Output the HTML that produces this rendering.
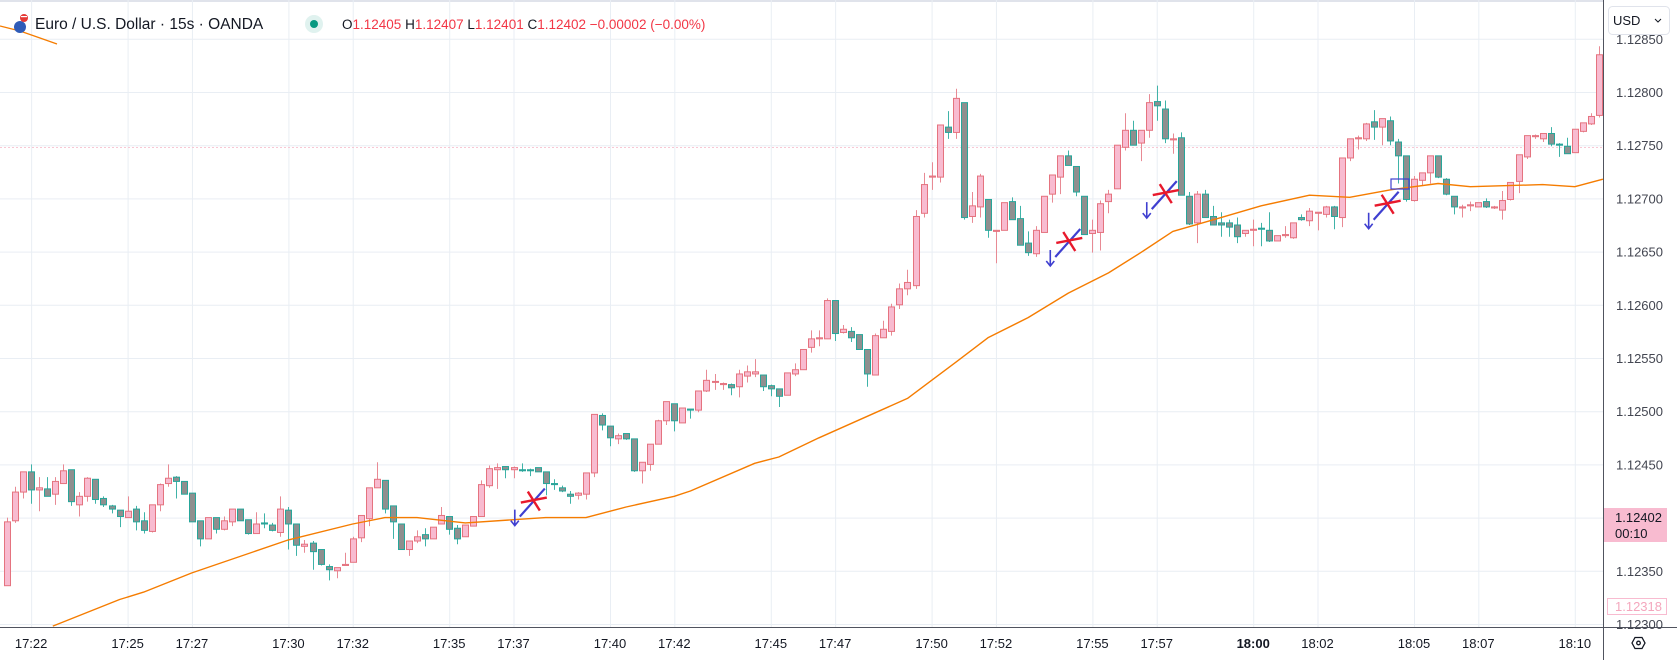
<!DOCTYPE html>
<html><head><meta charset="utf-8">
<style>
html,body{margin:0;padding:0;background:#fff;}
body{width:1677px;height:666px;overflow:hidden;position:relative;font-family:"Liberation Sans",sans-serif;}
svg{position:absolute;left:0;top:0;}
</style></head>
<body>
<svg id="chart" width="1677" height="666" viewBox="0 0 1677 666">
  <rect x="0" y="0" width="1677" height="666" fill="#ffffff"/>
  <rect x="0" y="0" width="1677" height="2" fill="#e0e3eb"/>
  <g id="grid"></g>
  <line x1="0" y1="147.5" x2="1603" y2="147.5" stroke="#f8c8d4" stroke-width="1" stroke-dasharray="2,2"/>
  <g id="candles"></g>
  <g id="ma"></g>
  <path d="M0,26 L20,31 L40,38 L57,44" fill="none" stroke="#f57c00" stroke-width="1.3"/>
  <g id="signals"></g>
  <rect x="1391" y="179" width="18" height="10" fill="none" stroke="#3f3fd0" stroke-width="1.2"/>
  <!-- axes -->
  <rect x="1604" y="0" width="73" height="666" fill="#ffffff"/>
  <rect x="0" y="628" width="1604" height="38" fill="#ffffff"/>
  <line x1="1603.5" y1="0" x2="1603.5" y2="660" stroke="#50535e" stroke-width="1"/>
  <line x1="0" y1="627.5" x2="1677" y2="627.5" stroke="#50535e" stroke-width="1"/>
  <g id="yaxis"></g>
  <g id="xaxis"></g>
  <rect x="1604" y="508" width="63" height="34" fill="#f8bbd0"/>
  <text x="1615" y="522" font-size="13" fill="#131722">1.12402</text>
  <text x="1615" y="538" font-size="13" fill="#131722">00:10</text>
  <rect x="1607.5" y="598.5" width="59" height="16" fill="#fff" stroke="#f8bbd0" stroke-width="1"/>
  <text x="1615" y="611" font-size="13" fill="#f4a7bd">1.12318</text>
  <rect x="1608.5" y="6.5" width="61" height="28" rx="4" fill="#fff" stroke="#e0e3eb"/>
  <text x="1613" y="25" font-size="13" fill="#131722">USD</text>
  <path d="M1655,19 l3,3 l3,-3" fill="none" stroke="#131722" stroke-width="1"/>
  <g>
    <path d="M1632,643 l3,-5.5 h7 l3,5.5 l-3,5.5 h-7 z" fill="none" stroke="#131722" stroke-width="1.3"/>
    <circle cx="1638.5" cy="643" r="1.8" fill="none" stroke="#131722" stroke-width="1.3"/>
  </g>
  <!-- header -->
  <g>
    <circle cx="20" cy="27" r="6" fill="#2f5bb7"/>
    <circle cx="24" cy="18" r="4" fill="#e53935"/>
    <rect x="21" y="16" width="6" height="1.2" fill="#fff"/>
  </g>
  <text x="35" y="29" font-size="15.5" fill="#131722">Euro / U.S. Dollar · 15s · OANDA</text>
  <circle cx="314" cy="24" r="9" fill="#e0f2ef"/>
  <circle cx="314" cy="24" r="4" fill="#089981"/>
  <text x="342" y="29" font-size="13.5"><tspan fill="#131722">O</tspan><tspan fill="#f23645">1.12405</tspan><tspan fill="#131722"> H</tspan><tspan fill="#f23645">1.12407</tspan><tspan fill="#131722"> L</tspan><tspan fill="#f23645">1.12401</tspan><tspan fill="#131722"> C</tspan><tspan fill="#f23645">1.12402 −0.00002 (−0.00%)</tspan></text>
</svg>
<script>
// prices in points (price × 100000)
const openP=[112336,112397,112424,112443,112426,112427,112422,112432,112445,112412,112420,112436,112418,112411,112407,112400,112408,112397,112387,112412,112432,112438,112434,112423,112397,112380,112400,112389,112396,112408,112398,112385,112395,112393,112386,112407,112394,112373,112376,112370,112354,112350,112355,112358,112381,112399,112428,112435,112411,112394,112370,112378,112384,112380,112394,112401,112390,112382,112392,112401,112430,112445,112448,112445,112445,112445,112447,112443,112432,112428,112422,112421,112422,112442,112496,112486,112474,112479,112474,112444,112450,112469,112491,112507,112489,112502,112501,112519,112528,112525,112525,112523,112533,112535,112534,112524,112521,112515,112535,112539,112560,112568,112568,112604,112574,112575,112572,112558,112534,112569,112575,112600,112615,112618,112686,112720,112720,112767,112762,112790,112683,112692,112699,112669,112670,112697,112681,112658,112648,112668,112704,112720,112740,112730,112702,112667,112668,112697,112709,112748,112764,112752,112764,112791,112784,112755,112757,112702,112677,112704,112683,112677,112677,112675,112667,112670,112672,112670,112660,112665,112663,112682,112679,112686,112685,112692,112682,112738,112756,112756,112772,112767,112773,112753,112740,112698,112717,112724,112740,112718,112702,112691,112693,112692,112697,112691,112689,112699,112716,112739,112758,112756,112761,112751,112749,112743,112763,112770,112778];
const highP=[112400,112429,112443,112450,112438,112438,112438,112450,112445,112424,112438,112436,112420,112412,112407,112420,112411,112405,112412,112432,112450,112439,112434,112423,112397,112400,112400,112401,112408,112408,112398,112405,112404,112395,112420,112410,112394,112379,112378,112370,112356,112353,112367,112382,112402,112428,112452,112435,112411,112394,112378,112388,112390,112391,112410,112401,112393,112393,112401,112435,112449,112451,112448,112448,112451,112446,112447,112443,112436,112430,112425,112424,112442,112497,112498,112486,112479,112479,112474,112452,112469,112492,112509,112507,112503,112502,112519,112539,112535,112527,112526,112539,112543,112549,112534,112525,112521,112536,112545,112558,112576,112576,112606,112604,112581,112579,112572,112558,112573,112585,112601,112620,112633,112689,112724,112734,112769,112782,112803,112790,112706,112723,112699,112670,112696,112701,112693,112669,112674,112702,112722,112740,112745,112730,112702,112680,112698,112708,112750,112780,112773,112764,112798,112806,112792,112761,112762,112706,112707,112708,112693,112687,112680,112682,112670,112680,112677,112687,112665,112674,112677,112685,112691,112686,112693,112693,112738,112756,112759,112771,112783,112775,112777,112756,112740,112721,112724,112740,112740,112719,112702,112694,112697,112696,112700,112693,112707,112715,112741,112759,112760,112761,112767,112752,112757,112765,112771,112780,112843];
const lowP=[112336,112395,112418,112413,112406,112420,112412,112432,112411,112401,112415,112413,112410,112404,112391,112400,112388,112385,112386,112406,112429,112418,112422,112396,112373,112380,112385,112388,112392,112397,112384,112385,112390,112387,112382,112370,112364,112367,112351,112355,112341,112343,112355,112358,112377,112392,112428,112404,112380,112370,112364,112376,112373,112380,112394,112384,112375,112382,112392,112401,112428,112427,112437,112437,112443,112439,112443,112421,112426,112424,112413,112417,112417,112438,112482,112467,112469,112473,112443,112432,112444,112469,112487,112481,112489,112493,112499,112518,112520,112520,112515,112513,112527,112532,112519,112514,112504,112515,112533,112539,112555,112561,112568,112566,112573,112565,112558,112523,112534,112569,112571,112596,112609,112615,112682,112708,112715,112756,112756,112680,112677,112682,112663,112639,112670,112680,112656,112646,112645,112668,112696,112704,112731,112702,112666,112649,112651,112686,112709,112745,112750,112735,112757,112773,112752,112742,112703,112675,112658,112682,112675,112664,112664,112658,112664,112655,112655,112659,112660,112663,112662,112679,112674,112670,112682,112671,112673,112735,112746,112754,112755,112750,112750,112714,112697,112697,112712,112714,112719,112703,112685,112682,112688,112692,112691,112690,112680,112698,112705,112737,112756,112753,112749,112739,112742,112743,112762,112769,112776];
const closeP=[112396,112424,112443,112426,112428,112420,112434,112444,112415,112420,112437,112417,112412,112408,112401,112406,112396,112388,112412,112431,112437,112434,112422,112396,112380,112400,112389,112397,112408,112397,112385,112394,112394,112388,112408,112394,112374,112375,112368,112356,112351,112353,112356,112380,112402,112428,112436,112408,112396,112370,112378,112382,112380,112391,112402,112389,112380,112393,112401,112431,112446,112447,112445,112447,112444,112444,112443,112432,112431,112425,112420,112423,112442,112497,112487,112475,112477,112474,112444,112452,112469,112491,112509,112491,112503,112501,112519,112529,112528,112526,112522,112535,112537,112537,112523,112521,112514,112536,112539,112558,112568,112569,112604,112573,112577,112569,112558,112535,112571,112577,112598,112615,112621,112683,112713,112721,112769,112762,112794,112682,112693,112721,112670,112670,112696,112680,112656,112649,112670,112702,112722,112740,112731,112706,112666,112670,112695,112704,112750,112764,112750,112764,112790,112787,112756,112756,112703,112676,112704,112682,112675,112675,112673,112664,112670,112671,112671,112660,112665,112666,112677,112680,112688,112687,112692,112683,112738,112756,112757,112770,112767,112775,112754,112740,112699,112718,112724,112740,112720,112704,112692,112692,112694,112696,112692,112692,112698,112715,112741,112759,112759,112761,112751,112750,112742,112765,112771,112777,112835];
// moving average samples: candle index and value (points)
const maIdx=[5.7,14,17,23,35,43,47,51,57,63,67,72,77,83,85,93,96,101,112,118,122,127,132,137,141,145,151,156,162,167,172,178,182,191,195,198.5];
const maVal=[112298,112323,112330,112348,112379,112394,112400,112400,112395,112398,112400,112400,112410,112420,112425,112451,112457,112475,112512,112546,112569,112588,112611,112630,112649,112669,112682,112693,112703,112701,112708,112714,112711,112713,112711,112718];
// signals: candle index and price (points) of the red cross
const sigIdx=[65.4,132,144,171.6];
const sigVal=[112416,112660,112705,112695];
// axis ticks
const priceTicks=[112850,112800,112750,112700,112650,112600,112550,112500,112450,112400,112350,112300];
const priceTickLabels=["1.12850","1.12800","1.12750","1.12700","1.12650","1.12600","1.12550","1.12500","1.12450","1.12400","1.12350","1.12300"];
const timeIdx=[3,15,23,35,43,55,63,75,83,95,103,115,123,135,143,155,163,175,183,195];
const timeLabels=["17:22","17:25","17:27","17:30","17:32","17:35","17:37","17:40","17:42","17:45","17:47","17:50","17:52","17:55","17:57","18:00","18:02","18:05","18:07","18:10"];

const NS="http://www.w3.org/2000/svg";
function X(i){return 7+i*8.04;}
function Y(p){return 92+(112800-p)*1.064;}
function mk(tag,attrs,parent){const e=document.createElementNS(NS,tag);for(const k in attrs)e.setAttribute(k,attrs[k]);parent.appendChild(e);return e;}

const grid=document.getElementById('grid');
priceTicks.forEach((p,k)=>{
  const l=mk('line',{x1:0,x2:1603,y1:Y(p)+0.5,y2:Y(p)+0.5,stroke:'#e9eef4','stroke-width':1},grid);
  
  
});
timeIdx.forEach(i=>{
  const l=mk('line',{x1:X(i)+0.5,x2:X(i)+0.5,y1:0,y2:627,stroke:'#e9eef4','stroke-width':1},grid);
  
  
});

const cg=document.getElementById('candles');
for(let i=0;i<openP.length;i++){
  const o=openP[i],h=highP[i],l=lowP[i],c=closeP[i];
  const up=c>=o;
  const g=mk('g',{},cg);
  
  
  const cx=Math.round(X(i))+0.5;
  const border=up?'#e5737f':'#26a69a';
  const fill=up?'#f8bbd0':'#8f8f8f';
  mk('line',{x1:cx,x2:cx,y1:Y(h),y2:Y(l),stroke:up?'#e88a94':'#3fb3a8','stroke-width':1},g);
  const top=Y(Math.max(o,c)),bot=Y(Math.min(o,c));
  mk('rect',{x:cx-3,y:top,width:6,height:Math.max(1,bot-top),fill:fill,stroke:border,'stroke-width':1},g);
}

const mg=document.getElementById('ma');
let d='';
maIdx.forEach((i,k)=>{d+=(k?'L':'M')+X(i).toFixed(1)+','+Y(maVal[k]).toFixed(1);});
const mp=mk('path',{d:d,fill:'none',stroke:'#f57c00','stroke-width':1.4,'stroke-linejoin':'round'},mg);



const sg=document.getElementById('signals');
sigIdx.forEach((i,k)=>{
  const cx=X(i),cy=Y(sigVal[k]);
  const g=mk('g',{},sg);
  
  
  const ax=cx-18;
  mk('path',{d:`M${ax},${cy+9} L${ax},${cy+25} M${ax-4},${cy+20} L${ax},${cy+25} L${ax+4},${cy+20}`,fill:'none',stroke:'#3f3fd0','stroke-width':1.6},g);
  mk('line',{x1:cx-13,y1:cy+16,x2:cx+12,y2:cy-12,stroke:'#3f3fd0','stroke-width':2.2},g);
  mk('line',{x1:cx-12,y1:cy+2,x2:cx+14,y2:cy-3,stroke:'#e8192c','stroke-width':2.4},g);
  mk('line',{x1:cx-5,y1:cy-9,x2:cx+7,y2:cy+10,stroke:'#e8192c','stroke-width':2.4},g);
});

const ya=document.getElementById('yaxis');
priceTicks.forEach((p,k)=>{
  const t=mk('text',{x:1616,y:Y(p)+5,'font-size':13,fill:'#434651'},ya);
  t.textContent=priceTickLabels[k];
  
  
});
const xa=document.getElementById('xaxis');
timeIdx.forEach((i,k)=>{
  const t=mk('text',{x:X(i),y:648,'font-size':13,fill:'#131722','text-anchor':'middle','font-weight':timeLabels[k]==='18:00'?'bold':'normal'},xa);
  t.textContent=timeLabels[k];
  
  
});
</script>
</body></html>
